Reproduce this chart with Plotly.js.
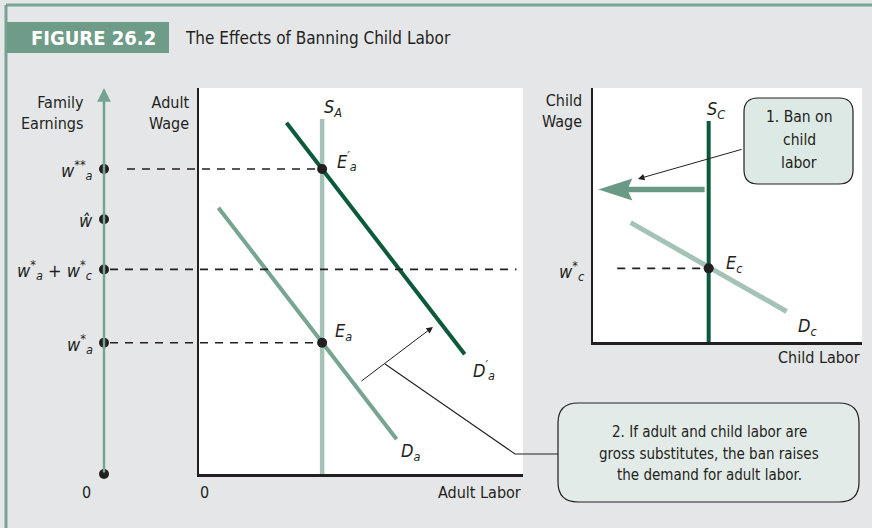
<!DOCTYPE html>
<html><head><meta charset="utf-8">
<script src="https://cdn.plot.ly/plotly-3.0.1.min.js"></script>
<style>html,body{margin:0;padding:0;background:#e5e6e8;}#chart{width:872px;height:528px;}</style>
</head><body><div id="chart"></div>
<script>
// ---------- data (conceptual units 0-100 on each panel) ----------
const familyLevels = [79, 66, 53, 34, 0];
const familyLabels = ['w<sup>**</sup><sub>a</sub>', 'ŵ', 'w<sup>*</sup><sub>a</sub> + w<sup>*</sup><sub>c</sub>', 'w<sup>*</sup><sub>a</sub>', ''];
const adultSupplyX = [38, 38];
const adultSupplyY = [0, 92];
const adultDemandX = [6, 61];
const adultDemandY = [69, 9];
const adultDemandNewX = [27, 82];
const adultDemandNewY = [91, 31];
const adultEqX = [38, 38];
const adultEqY = [79, 34];
const childSupplyX = [43, 43];
const childSupplyY = [0, 87];
const childDemandX = [14, 72];
const childDemandY = [47, 12];
const childEqX = [43];
const childEqY = [29];
const childWageDashX = [9, 43];
const banArrowX = [41.5, 12];   // shaft; head tip at banTipX
const banTipX = 2;
const banArrowY = 60;
const shiftArrow = {fromX: 49.7, fromY: 23.8, toX: 72.2, toY: 38.1};

// ---------- layout helpers ----------
const W = 872, H = 528;
const FONT = "'Liberation Sans Narrow', 'DejaVu Sans Condensed', Roboto, sans-serif";
const INK = '#231f20';
const px = x => x / W;
const py = y => 1 - y / H;
const adultDom = {x0: 199, x1: 523, y0: 88, y1: 474};
const childDom = {x0: 593, x1: 862, y0: 88, y1: 342};
const famDom = {x0: 84, x1: 124};
const adultPX = v => px(adultDom.x0 + (adultDom.x1 - adultDom.x0) * v / 100);

function roundRect(x0, y0, x1, y1, r) {
  const X = px, Y = py;
  return `M${X(x0 + r)},${Y(y0)} L${X(x1 - r)},${Y(y0)} Q${X(x1)},${Y(y0)} ${X(x1)},${Y(y0 + r)} ` +
    `L${X(x1)},${Y(y1 - r)} Q${X(x1)},${Y(y1)} ${X(x1 - r)},${Y(y1)} L${X(x0 + r)},${Y(y1)} ` +
    `Q${X(x0)},${Y(y1)} ${X(x0)},${Y(y1 - r)} L${X(x0)},${Y(y0 + r)} Q${X(x0)},${Y(y0)} ${X(x0 + r)},${Y(y0)} Z`;
}

const LIGHT = '#a4c3b6', MID = '#76a591', DARK = '#0d5a3b', TEAL = '#76a493', ARROWC = '#6a9a86';

const traces = [
  {x: familyLevels.map(() => 0), y: familyLevels, xaxis: 'x3', yaxis: 'y', mode: 'markers',
   marker: {color: INK, size: 10}, cliponaxis: false, hoverinfo: 'skip'},
  {x: adultSupplyX, y: adultSupplyY, xaxis: 'x', yaxis: 'y', mode: 'lines', line: {color: LIGHT, width: 4.5}},
  {x: adultDemandX, y: adultDemandY, xaxis: 'x', yaxis: 'y', mode: 'lines', line: {color: MID, width: 4}},
  {x: adultDemandNewX, y: adultDemandNewY, xaxis: 'x', yaxis: 'y', mode: 'lines', line: {color: DARK, width: 4}},
  {x: adultEqX, y: adultEqY, xaxis: 'x', yaxis: 'y', mode: 'markers', marker: {color: INK, size: 10}, cliponaxis: false},
  {x: childWageDashX, y: [childEqY[0], childEqY[0]], xaxis: 'x2', yaxis: 'y2', mode: 'lines',
   line: {color: INK, width: 1.6, dash: '8px,7px'}},
  {x: childDemandX, y: childDemandY, xaxis: 'x2', yaxis: 'y2', mode: 'lines', line: {color: LIGHT, width: 5}},
  {x: banArrowX, y: [banArrowY, banArrowY], xaxis: 'x2', yaxis: 'y2', mode: 'lines', line: {color: ARROWC, width: 5.5}},
  {x: childSupplyX, y: childSupplyY, xaxis: 'x2', yaxis: 'y2', mode: 'lines', line: {color: DARK, width: 4}},
  {x: childEqX, y: childEqY, xaxis: 'x2', yaxis: 'y2', mode: 'markers', marker: {color: INK, size: 10}, cliponaxis: false}
];

const axBase = {showgrid: false, zeroline: false, showticklabels: false, ticks: '', fixedrange: true,
  showline: true, linecolor: INK, linewidth: 2.5, range: [0, 100]};

const DASH = {color: INK, width: 1.6, dash: '8px,7px'};
const shapes = [
  {type: 'rect', xref: 'x domain', yref: 'y domain', x0: 0, x1: 1, y0: 0, y1: 1, fillcolor: '#ffffff', line: {width: 0}, layer: 'below'},
  {type: 'rect', xref: 'x2 domain', yref: 'y2 domain', x0: 0, x1: 1, y0: 0, y1: 1, fillcolor: '#ffffff', line: {width: 0}, layer: 'below'},
  {type: 'line', xref: 'paper', yref: 'paper', x0: px(6), x1: 1, y0: py(5), y1: py(5), line: {color: TEAL, width: 3}},
  {type: 'line', xref: 'paper', yref: 'paper', x0: px(6), x1: px(6), y0: py(5), y1: 0, line: {color: TEAL, width: 3}},
  {type: 'rect', xref: 'paper', yref: 'paper', x0: px(7), x1: px(169), y0: py(22), y1: py(53), fillcolor: '#6f9c89', line: {width: 0}},
  {type: 'line', xref: 'paper', yref: 'y', x0: px(127), x1: adultPX(adultEqX[0]), y0: familyLevels[0], y1: familyLevels[0], line: DASH},
  {type: 'line', xref: 'paper', yref: 'y', x0: px(110), x1: adultPX(98), y0: familyLevels[2], y1: familyLevels[2], line: DASH},
  {type: 'line', xref: 'paper', yref: 'y', x0: px(110), x1: adultPX(adultEqX[1]), y0: familyLevels[3], y1: familyLevels[3], line: DASH},
  {type: 'path', xref: 'x2', yref: 'y2', xsizemode: 'pixel', ysizemode: 'pixel', xanchor: banTipX, yanchor: banArrowY,
   path: 'M0,0 L34,11 L29,0 L34,-11 Z', fillcolor: ARROWC, line: {width: 0}},
  {type: 'path', xref: 'paper', yref: 'paper', path: roundRect(744, 98, 853, 184, 14), fillcolor: '#dde9e4', line: {color: INK, width: 1.2}},
  {type: 'path', xref: 'paper', yref: 'paper', path: roundRect(558, 403, 859, 502, 20), fillcolor: '#e2ebe7', line: {color: INK, width: 1.2}},
  {type: 'path', xref: 'paper', yref: 'paper',
   path: `M${px(385)},${py(364)} L${px(515)},${py(454)} L${px(558)},${py(454)}`, line: {color: INK, width: 1.1}}
];

function lab(text, x, y, opts) {
  return Object.assign({text: text, xref: 'paper', yref: 'paper', x: px(x), y: py(y), showarrow: false,
    xanchor: 'center', yanchor: 'middle', font: {family: FONT, size: 16, color: INK}}, opts || {});
}
const MATH = {family: FONT, size: 18, color: INK};

const annotations = [
  lab('<b>FIGURE 26.2</b>', 93, 38, {font: {family: FONT, size: 20, color: '#ffffff'}}),
  lab('The Effects of Banning Child Labor', 183, 38, {xanchor: 'left', font: {family: FONT, size: 17, color: INK}}),
  lab('Family<br>Earnings', 86, 113, {xanchor: 'right', align: 'right'}),
  lab('Adult<br>Wage', 191, 113, {xanchor: 'right', align: 'right'}),
  lab('Child<br>Wage', 584, 111, {xanchor: 'right', align: 'right'}),
  lab('0', 86, 492),
  lab('0', 204, 492),
  lab('Adult Labor', 523, 492, {xanchor: 'right'}),
  lab('Child Labor', 862, 357, {xanchor: 'right'}),
  lab('<i>S<sub>A</sub></i>', 322, 108, {xanchor: 'left', font: MATH}),
  lab('<i>S<sub>C</sub></i>', 705, 110, {xanchor: 'left', font: MATH}),
  lab('<i>E<sup>′</sup><sub>a</sub></i>', 335, 161, {xanchor: 'left', font: MATH}),
  lab('<i>E<sub>a</sub></i>', 333, 332, {xanchor: 'left', font: MATH}),
  lab('<i>E<sub>c</sub></i>', 724, 264, {xanchor: 'left', font: MATH}),
  lab('<i>D<sub>a</sub></i>', 399, 452, {xanchor: 'left', font: MATH}),
  lab('<i>D<sup>′</sup><sub>a</sub></i>', 471, 370, {xanchor: 'left', font: MATH}),
  lab('<i>D<sub>c</sub></i>', 796, 327, {xanchor: 'left', font: MATH}),
  lab('<i>w<sup>*</sup><sub>c</sub></i>', 587, 271, {xanchor: 'right', font: MATH}),
  lab('1. Ban on', 799, 117, {font: {family: FONT, size: 15.5, color: INK}}),
  lab('child', 799, 140, {font: {family: FONT, size: 15.5, color: INK}}),
  lab('labor', 799, 163, {font: {family: FONT, size: 15.5, color: INK}}),
  lab('2. If adult and child labor are', 709, 432, {font: {family: FONT, size: 15, color: INK}}),
  lab('gross substitutes, the ban raises', 709, 453.5, {font: {family: FONT, size: 15, color: INK}}),
  lab('the demand for adult labor.', 709, 475, {font: {family: FONT, size: 15, color: INK}}),
  {x: 0, y: 100, xref: 'x3', yref: 'y', ax: 0, ay: 0, axref: 'x3', ayref: 'y', text: '', showarrow: true,
   arrowhead: 2, arrowsize: 1.1, arrowwidth: 2.5, arrowcolor: TEAL, standoff: 0},
  {x: 16.7, y: 64.2, xref: 'x2', yref: 'y2', ax: 55.8, ay: 76, axref: 'x2', ayref: 'y2', text: '', showarrow: true,
   arrowhead: 2, arrowsize: 1.3, arrowwidth: 1, arrowcolor: INK, standoff: 0},
  {x: shiftArrow.toX, y: shiftArrow.toY, xref: 'x', yref: 'y', ax: shiftArrow.fromX, ay: shiftArrow.fromY, axref: 'x', ayref: 'y',
   text: '', showarrow: true, arrowhead: 2, arrowsize: 1.3, arrowwidth: 1, arrowcolor: INK, standoff: 0}
];

familyLabels.forEach((t, i) => {
  if (!t) return;
  annotations.push({text: '<i>' + t + '</i>', xref: 'paper', yref: 'y', x: px(95), y: familyLevels[i], xanchor: 'right',
    yanchor: 'middle', yshift: -1, showarrow: false, font: MATH});
});

const layout = {
  width: W, height: H, margin: {l: 0, r: 0, t: 0, b: 0},
  paper_bgcolor: '#e5e6e8', plot_bgcolor: 'rgba(0,0,0,0)', showlegend: false,
  font: {family: FONT, color: INK},
  xaxis: Object.assign({}, axBase, {domain: [px(adultDom.x0), px(adultDom.x1)], anchor: 'y'}),
  yaxis: Object.assign({}, axBase, {domain: [py(adultDom.y1), py(adultDom.y0)], anchor: 'x'}),
  xaxis2: Object.assign({}, axBase, {domain: [px(childDom.x0), px(childDom.x1)], anchor: 'y2'}),
  yaxis2: Object.assign({}, axBase, {domain: [py(childDom.y1), py(childDom.y0)], anchor: 'x2'}),
  xaxis3: {domain: [px(famDom.x0), px(famDom.x1)], anchor: 'y', range: [-1, 1], visible: false, fixedrange: true},
  shapes: shapes, annotations: annotations
};

Plotly.newPlot('chart', traces, layout, {staticPlot: true, displayModeBar: false});
</script></body></html>
